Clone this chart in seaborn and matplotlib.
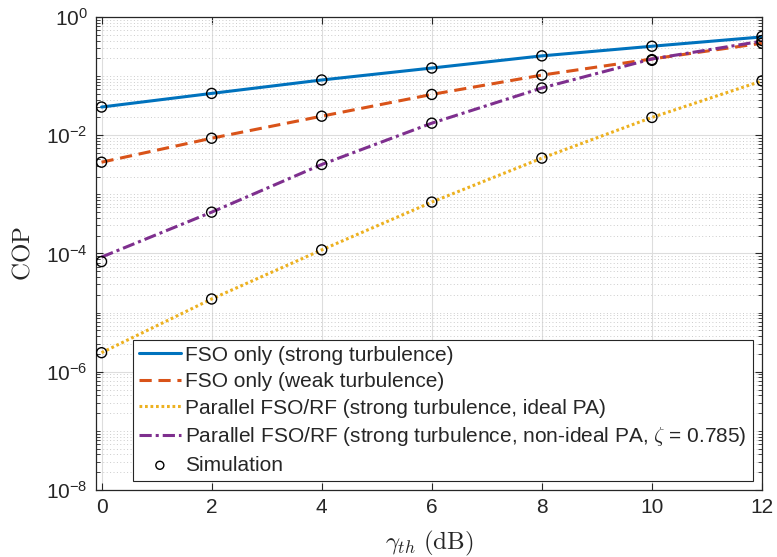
import numpy as np
import pandas as pd
import matplotlib
matplotlib.use("Agg")
import matplotlib.pyplot as plt
import seaborn as sns
from matplotlib.ticker import FixedLocator, FixedFormatter, NullFormatter, NullLocator

# Threshold SNR (dB)
gamma_th = [0, 2, 4, 6, 8, 10, 12]

# Analytical COP curves
cop_fso_strong = [0.030, 0.051, 0.086, 0.137, 0.22, 0.32, 0.46]
cop_fso_weak = [0.0035, 0.0089, 0.021, 0.049, 0.104, 0.195, 0.36]
cop_par_ideal = [2.1e-6, 1.7e-5, 1.15e-4, 7.4e-4, 4.1e-3, 0.020, 0.083]
cop_par_nonideal = [8.7e-5, 5.0e-4, 3.2e-3, 0.016, 0.063, 0.195, 0.39]

# Monte-Carlo simulation points
sim_fso_strong = [0.030, 0.051, 0.086, 0.137, 0.22, 0.32, 0.47]
sim_fso_weak = [0.0035, 0.0089, 0.021, 0.049, 0.104, 0.190, 0.36]
sim_par_ideal = [2.1e-6, 1.7e-5, 1.15e-4, 7.4e-4, 4.1e-3, 0.020, 0.083]
sim_par_nonideal = [7.3e-5, 5.0e-4, 3.2e-3, 0.016, 0.063, 0.185, 0.40]

labels = [
    "FSO only (strong turbulence)",
    "FSO only (weak turbulence)",
    "Parallel FSO/RF (strong turbulence, ideal PA)",
    r"Parallel FSO/RF (strong turbulence, non-ideal PA, $\zeta$ = 0.785)",
]
colors = ["#0072BD", "#D95319", "#EDB120", "#7E2F8E"]
dashes = ["-", (0, (4.0, 2.2)), (0, (0.9, 0.9)), (0, (4.0, 1.3, 1.0, 1.3))]

sns.set_theme(style="ticks")
plt.rcParams["font.family"] = ["Liberation Sans", "DejaVu Sans"]
plt.rcParams["mathtext.fontset"] = "cm"
plt.rcParams["axes.unicode_minus"] = False

fig = plt.figure(figsize=(7.77, 5.57), dpi=100)
ax = fig.add_axes([0.1236, 0.1203, 0.8571, 0.8492])

curves = [cop_fso_strong, cop_fso_weak, cop_par_ideal, cop_par_nonideal]
sims = [sim_fso_strong, sim_fso_weak, sim_par_ideal, sim_par_nonideal]

for vals, lab, col, ls in zip(curves, labels, colors, dashes):
    df = pd.DataFrame({"x": gamma_th, "y": vals})
    sns.lineplot(data=df, x="x", y="y", ax=ax, color=col, linewidth=2.2,
                 linestyle=ls, label=lab, zorder=3)

sim_df = pd.DataFrame({
    "x": gamma_th * 4,
    "y": sum(sims, []),
})
sns.scatterplot(data=sim_df, x="x", y="y", ax=ax, marker="o", s=52,
                facecolors="none", edgecolor="black", linewidth=1.0,
                label="Simulation", zorder=4)

ax.set_yscale("log")
ax.set_xlim(-0.1, 12)
ax.set_ylim(1e-8, 1)

ax.set_xticks([0, 2, 4, 6, 8, 10, 12])
ax.xaxis.set_minor_locator(NullLocator())
major_exp = [0, -2, -4, -6, -8]
ax.yaxis.set_major_locator(FixedLocator([10.0 ** e for e in major_exp]))
ax.yaxis.set_major_formatter(FixedFormatter(
    [r"$\mathdefault{10^{%d}}$" % e for e in major_exp]))
minor = [m * 10.0 ** d for d in range(-8, 0) for m in range(2, 10)] + \
        [10.0 ** d for d in (-1, -3, -5, -7)]
ax.yaxis.set_minor_locator(FixedLocator(minor))
ax.yaxis.set_minor_formatter(NullFormatter())

ax.tick_params(which="both", direction="in", top=True, right=True,
               colors="#262626", labelsize=15, pad=6)
ax.tick_params(which="major", length=5, width=0.8)
ax.tick_params(which="minor", length=3, width=0.6)
for sp in ax.spines.values():
    sp.set_color("#262626")
    sp.set_linewidth(0.9)

ax.grid(which="major", color="#dddddd", linewidth=0.8, linestyle="-")
ax.grid(which="minor", axis="y", color="#cccccc", linewidth=0.7,
        linestyle=(0, (1, 2.5)))
ax.set_axisbelow(True)

ax.set_xlabel(r"$\gamma_{th}\ \mathrm{(dB)}$", fontsize=18, labelpad=8,
              color="#262626")
ax.set_ylabel(r"$\mathrm{COP}$", fontsize=18, labelpad=8, color="#262626")

leg = ax.legend(loc="lower right", bbox_to_anchor=(0.9865, 0.019),
                borderaxespad=0, fontsize=15, frameon=True, fancybox=False,
                edgecolor="#262626", framealpha=1, handlelength=2.0,
                labelspacing=0.36, borderpad=0.3, handletextpad=0.22,
                markerscale=0.8)
leg.get_frame().set_linewidth(0.8)

fig.savefig("out.png", dpi=100)
